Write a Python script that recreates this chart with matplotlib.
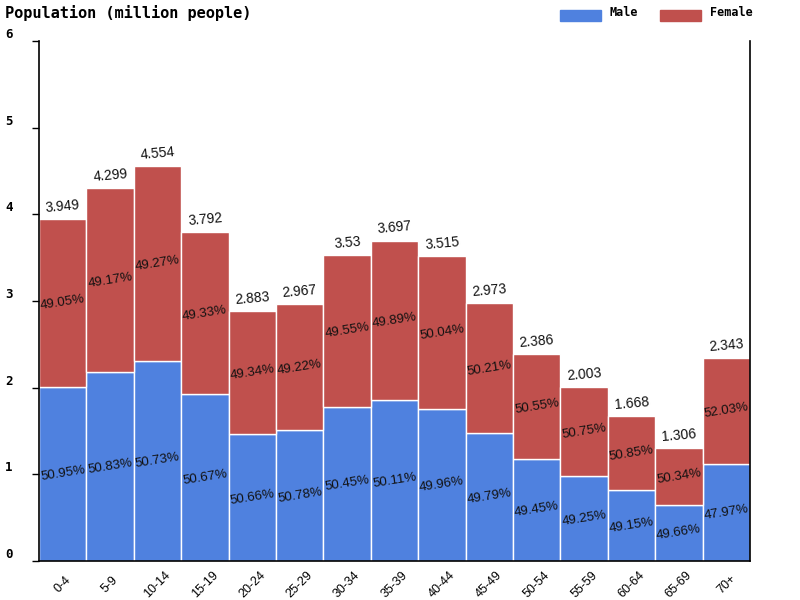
import numpy as np
import matplotlib.pyplot as plt

age_groups = ["0-4", "5-9", "10-14", "15-19", "20-24", "25-29", "30-34", "35-39",
              "40-44", "45-49", "50-54", "55-59", "60-64", "65-69", "70+"]
totals = [3.949, 4.299, 4.554, 3.792, 2.883, 2.967, 3.53, 3.697,
          3.515, 2.973, 2.386, 2.003, 1.668, 1.306, 2.343]
male_pct = [50.95, 50.83, 50.73, 50.67, 50.66, 50.78, 50.45, 50.11,
            49.96, 49.79, 49.45, 49.25, 49.15, 49.66, 47.97]
female_pct = [49.05, 49.17, 49.27, 49.33, 49.34, 49.22, 49.55, 49.89,
              50.04, 50.21, 50.55, 50.75, 50.85, 50.34, 52.03]
y_ticks = [0, 1, 2, 3, 4, 5, 6]

MALE_COLOR = "#4F81DF"
FEMALE_COLOR = "#C0504D"
MONO = "DejaVu Sans Mono"
SANS = "Liberation Sans"

totals = np.array(totals)
male = totals * np.array(male_pct) / 100
female = totals * np.array(female_pct) / 100
x = np.arange(len(age_groups))

fig = plt.figure(figsize=(8, 6), dpi=100)
ax = fig.add_axes([39 / 800, 39 / 600, 711 / 800, 520 / 600])

ax.bar(x, male, width=1.0, color=MALE_COLOR, edgecolor="white", linewidth=1)
ax.bar(x, female, width=1.0, bottom=male, color=FEMALE_COLOR,
       edgecolor="white", linewidth=1)

for i in range(len(x)):
    ax.text(x[i], male[i] / 2, f"{male_pct[i]:.2f}%", ha="center", va="center",
            rotation=9, fontsize=9.5, family=SANS, color="#111111")
    ax.text(x[i], male[i] + female[i] / 2, f"{female_pct[i]:.2f}%", ha="center",
            va="center", rotation=9, fontsize=9.5, family=SANS, color="#111111")
    ax.annotate(f"{totals[i]:g}", (x[i], totals[i]), xytext=(0, 3),
                textcoords="offset points", ha="center", va="bottom",
                rotation=5, fontsize=10, family=SANS, color="#111111")

ax.set_xlim(-0.5, len(x) - 0.5)
ax.set_ylim(0, 6)
ax.spines["top"].set_visible(False)
for s in ("left", "right", "bottom"):
    ax.spines[s].set_linewidth(1.2)
    ax.spines[s].set_color("black")

ax.set_xticks(x)
ax.set_xticklabels(age_groups, rotation=45, ha="center", va="center",
                   rotation_mode="anchor", fontsize=9, family=SANS)
ax.tick_params(axis="x", length=0, pad=17)

ax.set_yticks(y_ticks)
ax.set_yticklabels([])
ax.tick_params(axis="y", direction="out", length=5, width=1)
for t in y_ticks:
    ax.text(-34 / 711, t, str(t), transform=ax.get_yaxis_transform(),
            ha="left", va="bottom", fontsize=9, family=MONO, fontweight="bold")

fig.text(5 / 800, 1 - 13 / 600, "Population (million people)", ha="left",
         va="center", fontsize=11, family=MONO, fontweight="bold")

fig.patches.append(plt.Rectangle((560 / 800, 1 - 21 / 600), 41 / 800, 11 / 600,
                                 transform=fig.transFigure, color=MALE_COLOR))
fig.text(610 / 800, 1 - 13 / 600, "Male", ha="left", va="center", fontsize=8.5,
         family=MONO, fontweight="bold")
fig.patches.append(plt.Rectangle((660 / 800, 1 - 21 / 600), 41 / 800, 11 / 600,
                                 transform=fig.transFigure, color=FEMALE_COLOR))
fig.text(710 / 800, 1 - 13 / 600, "Female", ha="left", va="center", fontsize=8.5,
         family=MONO, fontweight="bold")

fig.savefig("out.png", dpi=100)
